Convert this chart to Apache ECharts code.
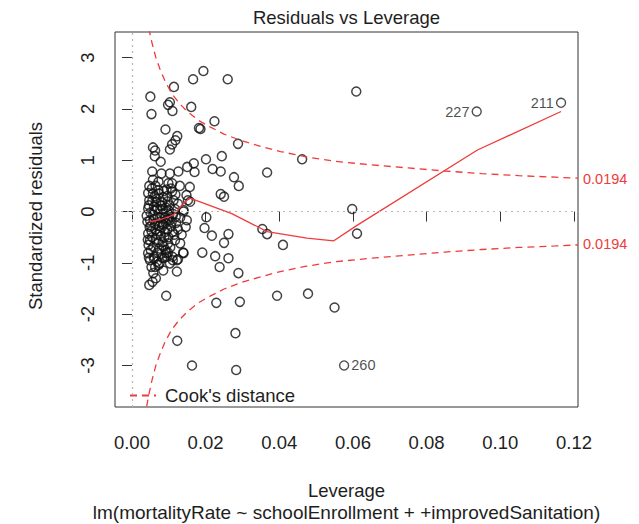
<!DOCTYPE html>
<html>
<head>
<meta charset="utf-8">
<script src="https://cdn.jsdelivr.net/npm/echarts@6/dist/echarts.min.js"></script>
<style>
  html, body { margin: 0; padding: 0; background: #fff; }
  #chart { width: 639px; height: 524px; }
</style>
</head>
<body>
<div id="chart"></div>
<script>
// tick positions
const xTicks = [0, 0.02, 0.04, 0.06, 0.08, 0.10, 0.12];
const yTicks = [-3, -2, -1, 0, 1, 2, 3];

// [leverage, standardized residual]
const points = [
  // upper part
  [0.0057, 1.25], [0.0063, 1.19], [0.0062, 1.08], [0.0078, 0.97],
  [0.0091, 1.60], [0.0123, 1.47], [0.0118, 1.39], [0.0109, 1.31], [0.0103, 1.21],
  [0.0053, 1.90], [0.0050, 2.24], [0.0103, 2.13], [0.0098, 2.08], [0.0110, 1.96],
  [0.0114, 2.43], [0.0161, 2.04], [0.0166, 2.58], [0.0194, 2.74], [0.0260, 2.58],
  [0.0224, 1.76], [0.0182, 1.63], [0.0186, 1.61], [0.0201, 1.02], [0.0244, 1.08],
  [0.0288, 1.32],
  [0.0055, 0.78], [0.0080, 0.74], [0.0103, 0.74], [0.0126, 0.78], [0.0150, 0.87],
  [0.0168, 0.94], [0.0170, 0.77],
  // spread to the right
  [0.0219, 0.83], [0.0241, 0.78], [0.0277, 0.67], [0.0290, 0.50], [0.0367, 0.76],
  [0.0241, 0.34], [0.0250, 0.29], [0.0462, 1.02], [0.0609, 2.34], [0.0598, 0.05],
  [0.0202, -0.11], [0.0197, -0.32], [0.0217, -0.47], [0.0262, -0.44], [0.0354, -0.34],
  [0.0367, -0.44], [0.0611, -0.43], [0.0250, -0.61], [0.0410, -0.65], [0.0191, -0.80],
  [0.0226, -0.87], [0.0262, -0.91], [0.0238, -1.08], [0.0289, -1.20], [0.0229, -1.78],
  [0.0293, -1.76], [0.0394, -1.64], [0.0478, -1.60], [0.0550, -1.87], [0.0281, -2.37],
  [0.0283, -3.09], [0.0123, -2.52], [0.0163, -3.00],
  // dense cluster, top
  [0.0057, 0.62], [0.0072, 0.58], [0.0109, 0.55], [0.0130, 0.50], [0.0157, 0.48],
  [0.0054, 0.45], [0.0072, 0.42], [0.0094, 0.43], [0.0109, 0.39], [0.0148, 0.32],
  [0.0152, 0.22], [0.0044, 0.36], [0.0062, 0.30], [0.0085, 0.28], [0.0118, 0.33],
  [0.0097, 0.20], [0.0066, 0.18], [0.0047, 0.22], [0.0125, 0.15], [0.0079, 0.12],
  [0.0140, 0.00],
  // dense cluster, middle
  [0.0044, 0.06], [0.0058, -0.07], [0.0049, -0.17], [0.0085, -0.04], [0.0103, -0.17],
  [0.0140, 0.03], [0.0149, -0.17], [0.0146, -0.30], [0.0158, 0.19], [0.0068, 0.04],
  [0.0075, -0.12], [0.0092, 0.08], [0.0112, -0.05], [0.0120, -0.22], [0.0063, -0.25],
  [0.0081, -0.30], [0.0096, -0.35], [0.0053, -0.38], [0.0110, -0.40], [0.0131, -0.12],
  [0.0040, -0.08], [0.0070, -0.45], [0.0088, -0.50], [0.0044, -0.43], [0.0049, -0.56],
  [0.0058, -0.69], [0.0106, -0.28], [0.0125, -0.35], [0.0135, -0.45], [0.0078, -0.20],
  [0.0060, 0.10], [0.0100, 0.02], [0.0117, 0.05], [0.0083, -0.60], [0.0098, -0.62],
  [0.0117, -0.56], [0.0131, -0.62], [0.0065, -0.55], [0.0052, -0.28], [0.0045, -0.65],
  [0.0074, -0.72], [0.0091, -0.75],
  // dense cluster, bottom
  [0.0044, -0.81], [0.0049, -0.95], [0.0063, -1.08], [0.0072, -1.04], [0.0094, -0.81],
  [0.0103, -1.01], [0.0122, -0.95], [0.0122, -1.17], [0.0140, -0.81], [0.0098, -0.80],
  [0.0139, -0.80], [0.0125, -0.93], [0.0053, -1.08], [0.0075, -1.01], [0.0047, -1.43],
  [0.0056, -1.37], [0.0065, -1.30], [0.0093, -1.64], [0.0060, -0.88], [0.0082, -0.90],
  [0.0110, -0.88], [0.0068, -0.98], [0.0058, -1.20], [0.0085, -1.15],
  // filling the dark core
  [0.0046, 0.12], [0.0050, -0.02], [0.0055, 0.20], [0.0059, -0.15], [0.0061, 0.02],
  [0.0064, -0.35], [0.0067, 0.25], [0.0069, -0.10], [0.0071, -0.60], [0.0073, 0.35],
  [0.0076, -0.38], [0.0077, 0.05], [0.0080, -0.82], [0.0082, 0.18], [0.0084, -0.25],
  [0.0086, -0.68], [0.0087, 0.40], [0.0089, -0.12], [0.0090, -0.40], [0.0093, 0.00],
  [0.0095, -0.88], [0.0096, 0.30], [0.0099, -0.50], [0.0101, -0.08], [0.0102, 0.12],
  [0.0104, -0.70], [0.0106, 0.45], [0.0108, -0.20], [0.0111, -0.95], [0.0113, 0.22],
  [0.0115, -0.45], [0.0048, -0.30], [0.0051, -0.75], [0.0055, -0.50], [0.0057, 0.35],
  [0.0060, -0.92], [0.0042, -0.20], [0.0043, -0.55], [0.0046, -0.90], [0.0047, 0.50],
  [0.0064, 0.50], [0.0069, -0.80], [0.0074, -0.28], [0.0079, -0.48], [0.0084, 0.05],
  [0.0088, -0.90], [0.0092, -0.22], [0.0097, -0.15], [0.0099, 0.55], [0.0119, -0.10]
];

const labelIds = ['227', '211', '260'];
const labelPts = [[0.0936, 1.95], [0.1165, 2.12], [0.0576, -3.00]];

// red smoother
const smooth = [
  [0.0048, -0.20], [0.0080, -0.15], [0.0112, -0.07], [0.0144, 0.19], [0.0157, 0.26],
  [0.0185, 0.19], [0.0271, -0.04], [0.0367, -0.39], [0.0475, -0.52], [0.0548, -0.57],
  [0.0611, -0.27], [0.0938, 1.20], [0.1165, 1.95]
];

// Cook's distance contour
const cookX = [0.0040, 0.0045, 0.0054, 0.0065, 0.0076, 0.0090, 0.0108, 0.0130, 0.0149, 0.0180,
  0.0212, 0.0250, 0.0294, 0.0350, 0.0403, 0.0470, 0.0550, 0.0650, 0.0750, 0.0850,
  0.0950, 0.1050, 0.1150, 0.1211];
const cookY = [3.80, 3.60, 3.30, 3.00, 2.78, 2.54, 2.30, 2.10, 1.96, 1.78,
  1.65, 1.51, 1.39, 1.27, 1.17, 1.07, 0.98, 0.91, 0.85, 0.79,
  0.74, 0.70, 0.67, 0.65];
const cookLevelAt = [0.64, -0.64];
const cookLevel = '0.0194';

const red = '#ef3b3b';
const ink = '#1e1e1e';
const font = 'Liberation Sans, Arial, sans-serif';

const chart = echarts.init(document.getElementById('chart'), null, { renderer: 'svg' });

const option = {
  animation: false,
  backgroundColor: '#fff',
  textStyle: { fontFamily: font },
  grid: { left: 115, right: 61, top: 32, bottom: 117, show: true, borderColor: '#333', borderWidth: 1 },
  legend: {
    data: ["Cook's distance"],
    left: 124, top: 381,
    itemWidth: 26, itemHeight: 14, itemGap: 0,
    itemStyle: { opacity: 0 },
    textStyle: { fontSize: 18.5, color: ink, fontFamily: font, padding: [0, 0, 0, 4] }
  },
  xAxis: {
    type: 'value', min: -0.0046, max: 0.1211,
    axisLine: { show: false },
    splitLine: { show: false },
    axisTick: { show: true, customValues: xTicks, length: 10, lineStyle: { color: '#333' } },
    axisLabel: { customValues: xTicks, formatter: v => v.toFixed(2), fontSize: 18.5, color: ink, margin: 26, fontFamily: font }
  },
  yAxis: [{
    type: 'value', min: -3.81, max: 3.5,
    axisLine: { show: false },
    splitLine: { show: false },
    axisTick: { show: true, customValues: yTicks, length: 10, lineStyle: { color: '#333' } },
    axisLabel: { customValues: yTicks, rotate: 90, fontSize: 18.5, color: ink, margin: 18, fontFamily: font }
  }, {
    type: 'value', min: -3.81, max: 3.5, position: 'right',
    axisLine: { show: false },
    splitLine: { show: false },
    axisTick: { show: false },
    axisLabel: { customValues: cookLevelAt, formatter: () => cookLevel, fontSize: 14.5, color: red, margin: 5, fontFamily: font }
  }],
  graphic: [
    { type: 'text', x: 346.5, y: 17, style: { text: 'Residuals vs Leverage', font: '18.5px ' + font, fill: ink, textAlign: 'center', textVerticalAlign: 'middle' } },
    { type: 'text', x: 346.5, y: 490, style: { text: 'Leverage', font: '18.5px ' + font, fill: ink, textAlign: 'center', textVerticalAlign: 'middle' } },
    { type: 'text', x: 346.5, y: 512, style: { text: 'lm(mortalityRate ~ schoolEnrollment + +improvedSanitation)', font: '19px ' + font, fill: ink, textAlign: 'center', textVerticalAlign: 'middle' } },
    { type: 'text', x: 35, y: 216, rotation: Math.PI / 2, style: { text: 'Standardized residuals', font: '18.5px ' + font, fill: ink, textAlign: 'center', textVerticalAlign: 'middle' } }
  ],
  series: [
    {
      type: 'scatter', data: points, symbol: 'circle', symbolSize: 9,
      itemStyle: { color: 'rgba(0,0,0,0)', borderColor: '#111', borderWidth: 1.5 },
      silent: true,
      markLine: {
        silent: true, symbol: 'none', label: { show: false },
        lineStyle: { color: '#b5b5b5', type: [2, 4], width: 1.2 },
        data: [{ yAxis: 0 }, { xAxis: 0 }]
      }
    },
    {
      type: 'scatter', symbol: 'circle', symbolSize: 9,
      itemStyle: { color: 'rgba(0,0,0,0)', borderColor: '#222', borderWidth: 1.4 },
      data: labelPts.map((p, i) => ({
        value: p,
        label: { show: true, formatter: labelIds[i], position: i === 2 ? 'right' : 'left', distance: 2, fontSize: 14.5, color: ink, fontFamily: font }
      }))
    },
    {
      type: 'line', data: smooth, symbol: 'none', clip: true,
      lineStyle: { color: red, width: 1.3 }
    },
    {
      name: "Cook's distance", type: 'line', symbol: 'none', clip: true,
      data: cookX.map((x, i) => [x, cookY[i]]),
      itemStyle: { color: red },
      lineStyle: { color: red, width: 1.3, type: [7, 5] }
    },
    {
      name: "Cook's distance", type: 'line', symbol: 'none', clip: true,
      data: cookX.map((x, i) => [x, -cookY[i]]),
      itemStyle: { color: red },
      lineStyle: { color: red, width: 1.3, type: [7, 5] }
    }
  ]
};

chart.setOption(option);
</script>
</body>
</html>
